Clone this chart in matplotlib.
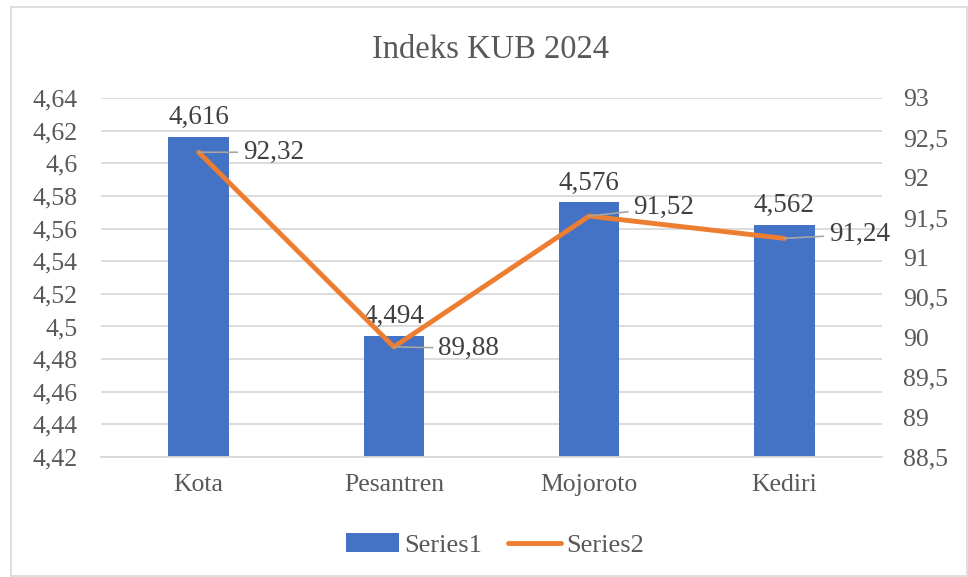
import matplotlib.pyplot as plt
from matplotlib.patches import Rectangle
from matplotlib.ticker import FuncFormatter

categories = ["Kota", "Pesantren", "Mojoroto", "Kediri"]
series1 = [4.616, 4.494, 4.576, 4.562]
series2 = [92.32, 89.88, 91.52, 91.24]
label_dy = [0, -1, 6, 3]  # small vertical nudge for line labels (points)

BLUE = "#4472C4"
ORANGE = "#ED7D31"
TEXT = "#595959"
GRID = "#D9D9D9"

plt.rcParams["font.family"] = ["Liberation Serif", "DejaVu Serif"]


def comma(v, _pos=None):
    s = f"{v:.2f}".rstrip("0").rstrip(".")
    return s.replace(".", ",")


fig = plt.figure(figsize=(9.68, 5.77), dpi=100)
fig.patches.append(Rectangle((11 / 968, 0.002), 956 / 968, 1 - 7 / 577 - 0.002,
                             transform=fig.transFigure, fill=False,
                             edgecolor="#D9D9D9", linewidth=1.2))

ax = fig.add_axes([101 / 968, 1 - 457 / 577, 781 / 968, 359 / 577])
ax2 = ax.twinx()

x = list(range(len(categories)))
bars = ax.bar(x, series1, width=0.31, color=BLUE, label="Series1", zorder=2)
ax.set_ylim(4.42, 4.64)
ax.set_yticks([4.42 + 0.02 * i for i in range(12)])
ax.yaxis.set_major_formatter(FuncFormatter(comma))
ax.set_xlim(-0.5, len(categories) - 0.5)
ax.set_xticks(x)
ax.set_xticklabels(categories)
ax.grid(axis="y", color=GRID, linewidth=1.3, zorder=0)
ax.set_axisbelow(True)

for xi, v in zip(x, series1):
    ax.annotate(f"{v:.3f}".replace(".", ","), (xi, v), xytext=(0, 5),
                textcoords="offset points", ha="center", va="bottom",
                fontsize=19.5, color="#404040")

line, = ax2.plot(x, series2, color=ORANGE, linewidth=3.5, label="Series2",
                 solid_capstyle="round", zorder=3)
ax2.set_ylim(88.5, 93)
ax2.set_yticks([88.5 + 0.5 * i for i in range(10)])
ax2.yaxis.set_major_formatter(FuncFormatter(comma))

for xi, v, dy in zip(x, series2, label_dy):
    ax2.annotate(f"{v:.2f}".replace(".", ","), (xi, v), xytext=(32, dy),
                 textcoords="offset points", ha="left", va="center",
                 fontsize=19.5, color="#404040",
                 arrowprops=dict(arrowstyle="-", color="#A6A6A6", lw=1.2,
                                 shrinkA=2, shrinkB=0))

for a in (ax, ax2):
    for sp in a.spines.values():
        sp.set_visible(False)
    a.tick_params(length=0, labelsize=18.5, labelcolor=TEXT)
ax.spines["bottom"].set_visible(True)
ax.spines["bottom"].set_color(GRID)
ax.spines["bottom"].set_linewidth(1.3)
ax.tick_params(axis="x", pad=12)
ax.tick_params(axis="y", pad=17)
ax2.tick_params(axis="y", pad=15)

fig.text(490 / 968, 1 - 50 / 577, "Indeks KUB 2024", ha="center", va="center",
         fontsize=23.5, color=TEXT)

fig.legend([bars, line], ["Series1", "Series2"], loc="center",
           bbox_to_anchor=(495 / 968, 1 - 545 / 577), ncol=2, frameon=False,
           fontsize=19, labelcolor=TEXT, handlelength=2.0, handletextpad=0.2,
           columnspacing=1.0)

fig.savefig("out.png", dpi=100)
